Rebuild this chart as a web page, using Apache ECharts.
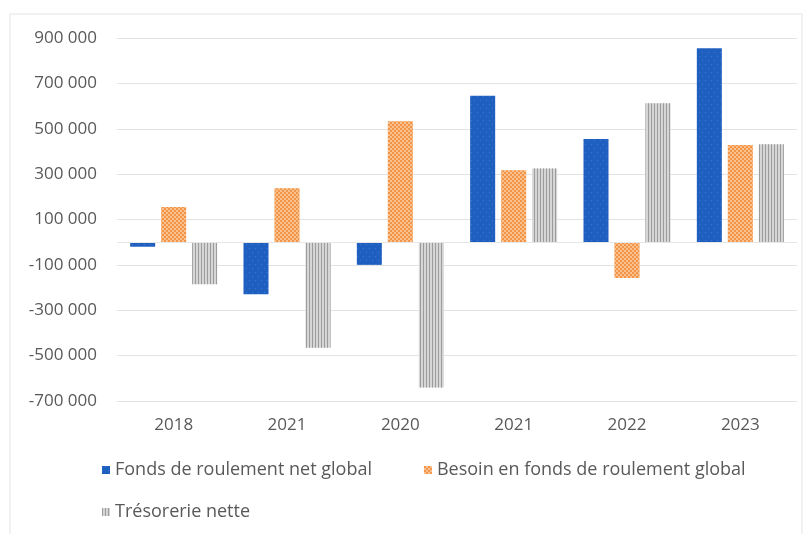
<!DOCTYPE html>
<html>
<head>
<meta charset="utf-8">
<script src="https://cdn.jsdelivr.net/npm/echarts@6/dist/echarts.min.js"></script>
<style>
  html, body { margin: 0; padding: 0; background: #ffffff; }
  #chart { width: 806px; height: 534px; }
</style>
</head>
<body>
<div id="chart"></div>
<script>
const categories = ['2018', '2021', '2020', '2021', '2022', '2023'];
const fondsRoulement = [-20000, -230000, -100000, 645000, 455000, 855000];
const besoinFonds = [155000, 238000, 533000, 317000, -158000, 428000];
const tresorerie = [-185000, -465000, -640000, 325000, 612000, 432000];
const yTicks = [-700000, -500000, -300000, -100000, 100000, 300000, 500000, 700000, 900000];
const seriesNames = ['Fonds de roulement net global', 'Besoin en fonds de roulement global', 'Trésorerie nette'];

const textColor = '#595959';
const fontFamily = '"Open Sans", "Liberation Sans", sans-serif';

function fmt(v) {
  const s = Math.abs(v).toString().replace(/\B(?=(\d{3})+(?!\d))/g, ' ');
  return (v < 0 ? '-' : '') + s;
}

const chart = echarts.init(document.getElementById('chart'), null, { renderer: 'canvas' });
chart.setOption({
  backgroundColor: '#ffffff',
  animation: false,
  graphic: [{
    type: 'rect',
    shape: { x: 10, y: 14, width: 792, height: 530 },
    style: { fill: 'none', stroke: '#e4e4e4', lineWidth: 1 },
    silent: true
  }],
  grid: { left: 117, right: 9, top: 38, bottom: 133, containLabel: false },
  legend: [{
    data: [seriesNames[0], seriesNames[1]],
    left: 97, top: 456,
    itemWidth: 8, itemHeight: 8, itemGap: 52,
    textStyle: { color: textColor, fontSize: 18, fontFamily: fontFamily },
    icon: 'rect'
  }, {
    data: [seriesNames[2]],
    left: 97, top: 498,
    itemWidth: 8, itemHeight: 8,
    textStyle: { color: textColor, fontSize: 18, fontFamily: fontFamily },
    icon: 'rect'
  }],
  xAxis: {
    type: 'category',
    data: categories,
    axisLine: { show: false },
    axisTick: { show: false },
    axisLabel: { color: textColor, fontSize: 17, fontFamily: fontFamily, margin: 16 }
  },
  yAxis: {
    type: 'value',
    min: -700000,
    max: 900000,
    axisLine: { show: false },
    axisTick: { show: false, customValues: yTicks },
    axisLabel: {
      customValues: yTicks,
      color: textColor, fontSize: 17, fontFamily: fontFamily, margin: 20,
      formatter: fmt
    },
    splitLine: { show: true, lineStyle: { color: '#e2e2e2', width: 1 } }
  },
  series: [{
    name: seriesNames[0],
    type: 'bar',
    data: fondsRoulement,
    barWidth: 25,
    barGap: '24%',
    itemStyle: {
      color: '#1f5fbf',
      decal: { symbol: 'rect', symbolSize: 1, color: 'rgba(120,170,235,0.35)', dashArrayX: [[1, 5], [0, 3, 1, 2]], dashArrayY: [1, 3] }
    },
    markLine: {
      silent: true, symbol: 'none', label: { show: false },
      lineStyle: { color: '#e6e6e6', type: 'solid', width: 1 },
      data: [{ yAxis: 0 }]
    }
  }, {
    name: seriesNames[1],
    type: 'bar',
    data: besoinFonds,
    barWidth: 25,
    itemStyle: {
      color: '#f29548',
      decal: { symbol: 'rect', symbolSize: 1, color: 'rgba(255,222,190,0.6)', dashArrayX: [[2, 2], [0, 2, 2, 0]], dashArrayY: [2, 0] }
    }
  }, {
    name: seriesNames[2],
    type: 'bar',
    data: tresorerie,
    barWidth: 25,
    itemStyle: {
      color: '#d6d6d6',
      decal: { symbol: 'rect', symbolSize: 1, color: '#9c9c9c', dashArrayX: [1, 2], dashArrayY: [10, 0] }
    }
  }]
});
</script>
</body>
</html>
